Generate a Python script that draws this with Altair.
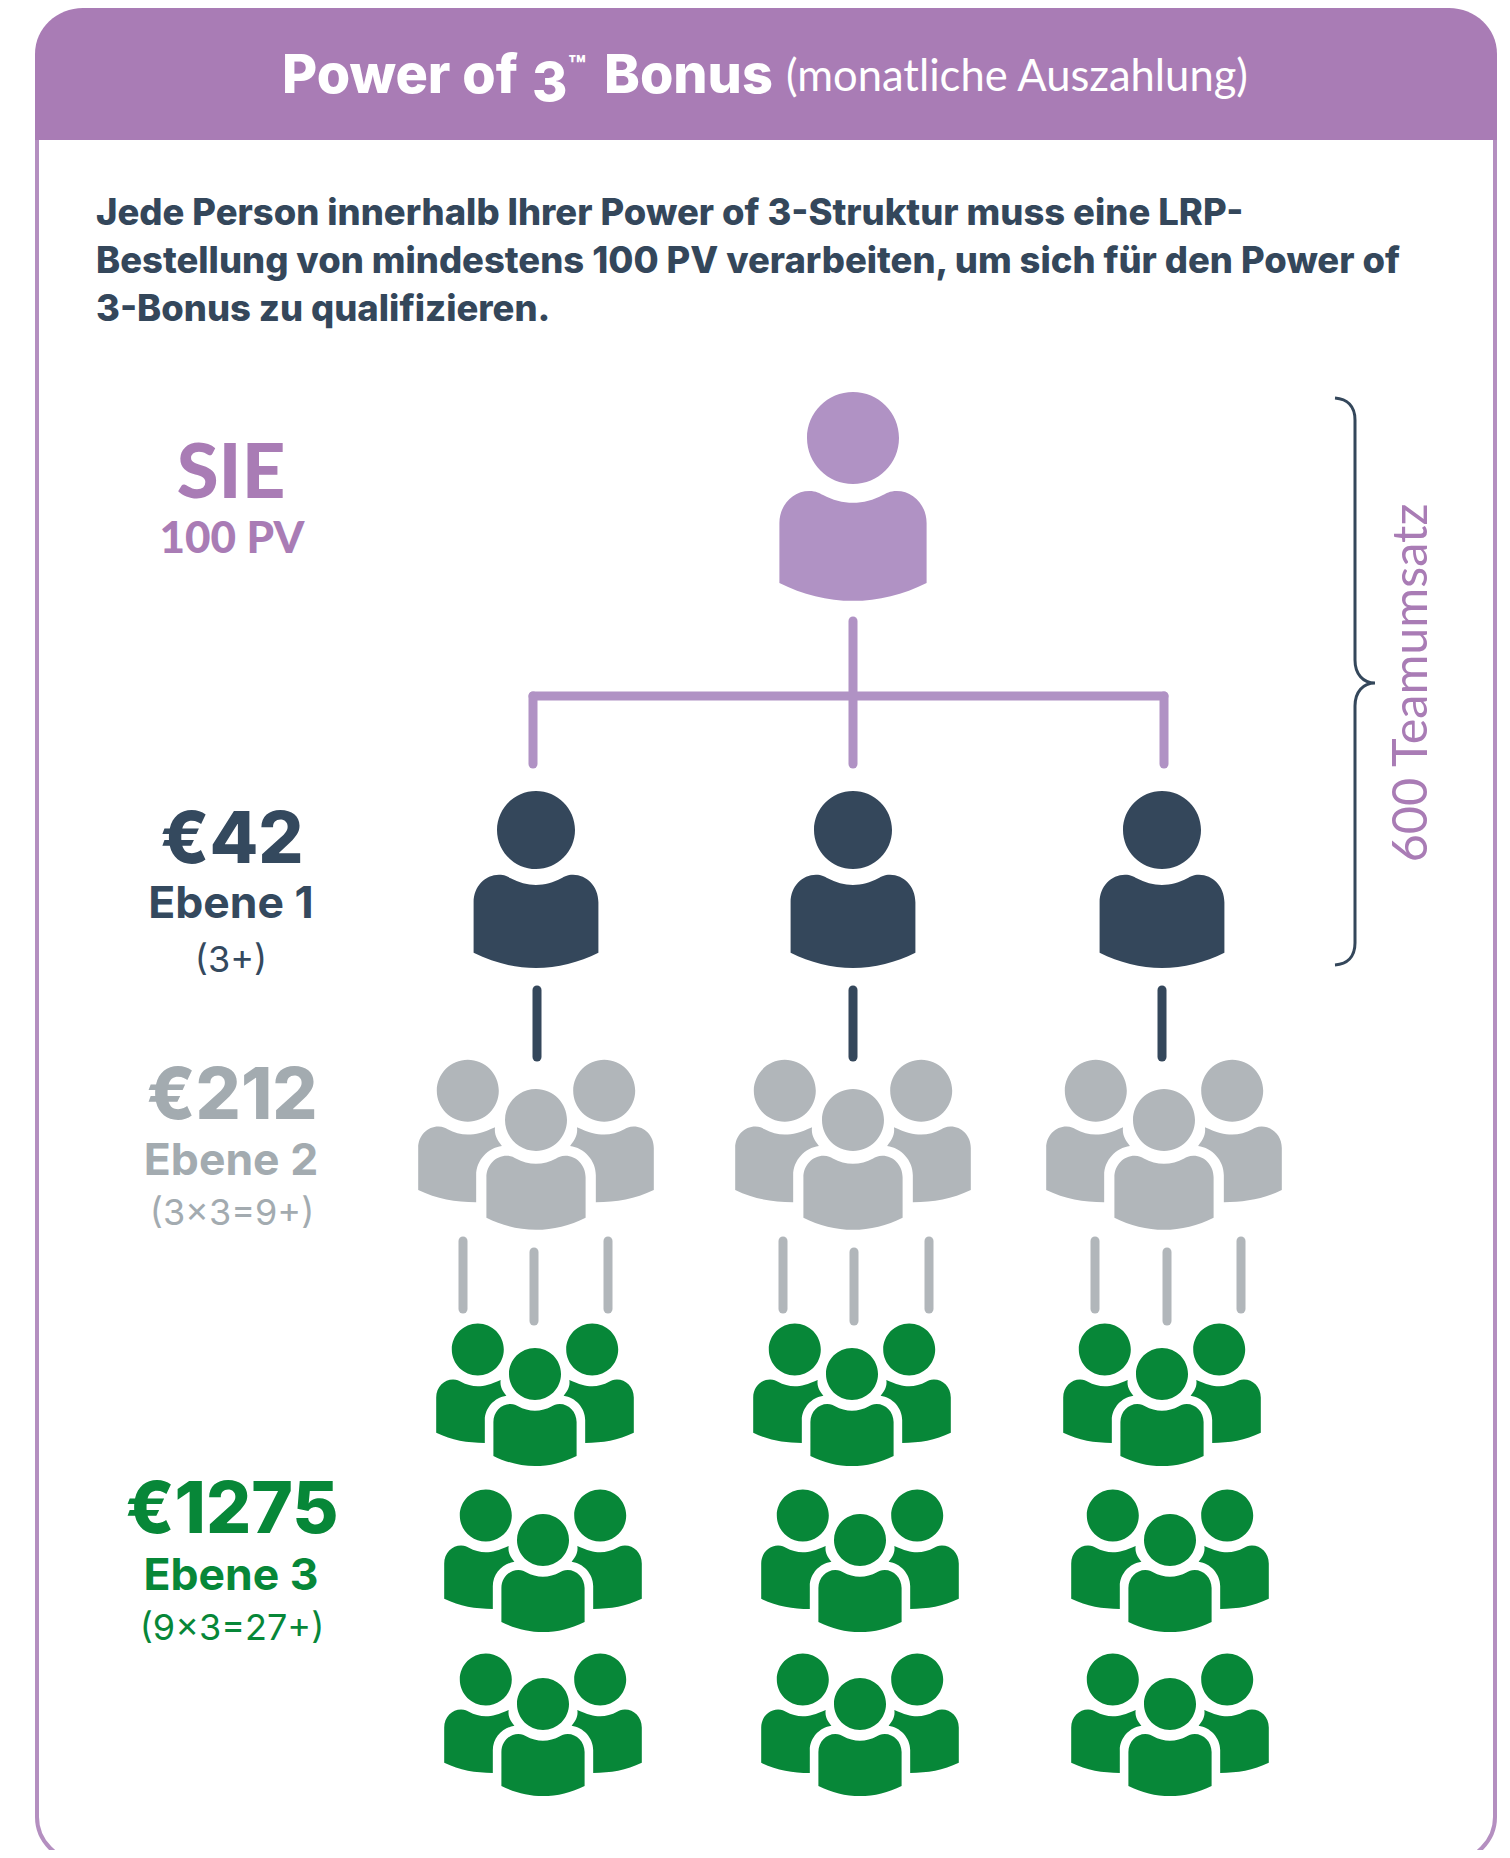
import altair as alt
import pandas as pd

# --- canvas in reference pixels ---
M = 8

# --- text ---
TITLE_BOLD = ["Power of", "3", "Bonus"]
TITLE_BOLD_X = [282, 532, 604]
TITLE_BOLD_Y = [93, 101, 93]
TITLE_REG = "(monatliche Auszahlung)"
BODY = ["Jede Person innerhalb Ihrer Power of 3-Struktur muss eine LRP-",
        "Bestellung von mindestens 100 PV verarbeiten, um sich für den Power of",
        "3-Bonus zu qualifizieren."]
BODY_Y = [225, 273, 321]

AMOUNTS = ["SIE", "€42", "€212", "€1275"]
AMOUNT_Y = [498, 863, 1119, 1533]
LEVELS = ["100 PV", "Ebene 1", "Ebene 2", "Ebene 3"]
LEVEL_Y = [553, 918, 1175, 1590]
COUNTS = ["(3+)", "(3x3=9+)", "(9x3=27+)"]
COUNT_Y = [972, 1225, 1640]
LABEL_COLORS = ["#a97cb5", "#34495e", "#a3abb0", "#078738"]

# --- colours ---
PURPLE = "#a97cb5"
PERSON_PURPLE = "#b092c4"
DARK = "#34475b"
GRAY = "#b1b6ba"
GREEN = "#078738"

# --- people: head centres ---
SOLO_X = [853, 536, 853, 1162]
SOLO_Y = [438, 830, 830, 830]
SOLO_R = [46, 39, 39, 39]
SOLO_C = [PERSON_PURPLE, DARK, DARK, DARK]
GRAY_X = [536, 853, 1164]
GRAY_Y = [1120, 1120, 1120]
GREEN_X = [535, 852, 1162, 543, 860, 1170, 543, 860, 1170]
GREEN_Y = [1374, 1374, 1374, 1540, 1540, 1540, 1704, 1704, 1704]

# --- connectors ---
LINE_X1 = [853, 533, 533, 1164, 537, 853, 1162,
           463, 534, 608, 783, 854, 929, 1095, 1167, 1241]
LINE_X2 = [853, 1164, 533, 1164, 537, 853, 1162,
           463, 534, 608, 783, 854, 929, 1095, 1167, 1241]
LINE_Y1 = [621, 696, 696, 696, 990, 990, 990,
           1241, 1252, 1241, 1241, 1252, 1241, 1241, 1252, 1241]
LINE_Y2 = [764, 696, 764, 764, 1057, 1057, 1057,
           1309, 1321, 1309, 1309, 1321, 1309, 1309, 1321, 1309]
LINE_C = [PERSON_PURPLE] * 4 + [DARK] * 3 + [GRAY] * 9

# --- glyph paths (unit = head radius) ---
HEAD = ("M-1,0C-1,-.552,-.552,-1,0,-1C.552,-1,1,-.552,1,0"
        "C1,.552,.552,1,0,1C-.552,1,-1,.552,-1,0Z")
BODY_PATH = ("M-1.6,3.15L-1.6,1.85C-1.6,1.45,-1.3,1.15,-.95,1.15C-.8,1.15,-.72,1.2,-.65,1.24"
             "C-.45,1.35,-.22,1.41,0,1.41C.22,1.41,.45,1.35,.65,1.24C.72,1.2,.8,1.15,.95,1.15"
             "C1.3,1.15,1.6,1.45,1.6,1.85L1.6,3.15C1.1,3.4,.55,3.54,0,3.54C-.55,3.54,-1.1,3.4,-1.6,3.15Z")
PERSON = HEAD + BODY_PATH


def circle(cx, cy):
    k = .552
    return (f"M{cx-1},{cy}C{cx-1},{cy-k},{cx-k},{cy-1},{cx},{cy-1}"
            f"C{cx+k},{cy-1},{cx+1},{cy-k},{cx+1},{cy}"
            f"C{cx+1},{cy+k},{cx+k},{cy+1},{cx},{cy+1}"
            f"C{cx-k},{cy+1},{cx-1},{cy+k},{cx-1},{cy}Z")


def back(s):
    # back shoulder of a group, s = -1 left, +1 right
    f = lambda v: round(s * v, 3)
    return (f"M{f(3.8)},2.26L{f(3.8)},.9C{f(3.8)},.5,{f(3.5)},.21,{f(3.15)},.21"
            f"C{f(3)},.21,{f(2.92)},.26,{f(2.85)},.3C{f(2.65)},.41,{f(2.42)},.47,{f(2.2)},.47"
            f"C{f(1.95)},.47,{f(1.7)},.4,{f(1.32)},.23C{f(1.36)},.48,{f(1.24)},.66,{f(1.1)},.84"
            f"C{f(1.55)},.9,{f(1.93)},1.3,{f(1.93)},1.78L{f(1.93)},2.65"
            f"C{f(2.6)},2.65,{f(3.2)},2.55,{f(3.8)},2.26Z")


GROUP = PERSON + circle(-2.2, -.94) + circle(2.2, -.94) + back(-1) + back(1)

# --- frame paths in px (size 4 = 1:1) ---
HEADER_PATH = "M-2,132L-2,46C-2,20,20,0,46,0L1412,0C1438,0,1460,20,1460,46L1460,132Z"
FRAME_PATH = "M0,130L0,1809C0,1833,20,1853,44,1853L1414,1853C1438,1853,1458,1833,1458,1809L1458,130"
BRACE_PATH = ("M0,0C12,1,20,8,20,22L20,262C20,276,28,285,40,285C28,285,20,294,20,308"
              "L20,545C20,559,12,566,0,567")

PLOT_W, PLOT_H = 1494, 1842
xs = alt.Scale(domain=[M, M + PLOT_W], range=[0, PLOT_W], nice=False, zero=False)
ys = alt.Scale(domain=[M, M + PLOT_H], range=[0, PLOT_H], nice=False, zero=False)
X = alt.X("x:Q", scale=xs, axis=None)
Y = alt.Y("y:Q", scale=ys, axis=None)


def symbols(xv, yv, rv, cv, path):
    df = pd.DataFrame({"x": xv, "y": yv, "s": [4 * r * r for r in rv], "c": cv})
    return alt.Chart(df).mark_point(shape=path, filled=True, opacity=1, strokeWidth=0).encode(
        x=X, y=Y, size=alt.Size("s:Q", scale=None, legend=None),
        color=alt.Color("c:N", scale=None, legend=None))


def texts(tv, xv, yv, sv, cv, font, weight=400, align="center", angle=None):
    df = pd.DataFrame({"t": tv, "x": xv, "y": yv, "s": sv, "c": cv})
    kw = {"angle": angle} if angle is not None else {}
    return alt.Chart(df).mark_text(font=font, fontWeight=weight, align=align,
                                   baseline="alphabetic", **kw).encode(
        x=X, y=Y, text="t:N", size=alt.Size("s:Q", scale=None, legend=None),
        color=alt.Color("c:N", scale=None, legend=None))


def outline(x, y, path, color, width):
    df = pd.DataFrame({"x": [x], "y": [y]})
    return alt.Chart(df).mark_point(shape=path, filled=False, opacity=1, size=4, color=color,
                                    strokeWidth=width).encode(x=X, y=Y)


rules = alt.Chart(pd.DataFrame({"x": LINE_X1, "x2": LINE_X2, "y": LINE_Y1, "y2": LINE_Y2, "c": LINE_C})) \
    .mark_rule(strokeWidth=9, strokeCap="round").encode(
        x=X, x2="x2:Q", y=Y, y2="y2:Q", color=alt.Color("c:N", scale=None, legend=None))

SANS = "Inter"
layers = [
    outline(37, 8, FRAME_PATH, "#b48fc0", 4),
    symbols([37], [8], [1], [PURPLE], HEADER_PATH),
    rules,
    symbols(SOLO_X, SOLO_Y, SOLO_R, SOLO_C, PERSON),
    symbols(GRAY_X, GRAY_Y, [31] * 3, [GRAY] * 3, GROUP),
    symbols(GREEN_X, GREEN_Y, [26] * 9, [GREEN] * 9, GROUP),
    outline(1335, 398, BRACE_PATH, DARK, 3),
    texts(TITLE_BOLD, TITLE_BOLD_X, TITLE_BOLD_Y, [54, 54, 54], ["#ffffff"] * 3, SANS, 800, "left"),
    texts(["™"], [568], [76], [28], ["#ffffff"], SANS, 800, "left"),
    texts([TITLE_REG], [786], [91], [43.5], ["#ffffff"], "Lato", 400, "left"),
    texts(BODY, [96, 96, 96], BODY_Y, [36.4, 36.4, 36.4], [DARK] * 3, SANS, 800, "left"),
    texts(AMOUNTS[:1], [231], AMOUNT_Y[:1], [76], LABEL_COLORS[:1], "Lato", 900),
    texts(AMOUNTS[1:], [232] * 3, AMOUNT_Y[1:], [71, 71, 71], LABEL_COLORS[1:], SANS, 800),
    texts(LEVELS[:1], [232], LEVEL_Y[:1], [44], LABEL_COLORS[:1], "Lato", 900),
    texts(LEVELS[1:], [231] * 3, LEVEL_Y[1:], [44.5, 44.5, 44.5], LABEL_COLORS[1:], SANS, 700),
    texts(COUNTS, [231, 232, 232], COUNT_Y, [36, 36, 36], LABEL_COLORS[1:], SANS, 400),
    texts(["600 Teamumsatz"], [1427], [683], [48.5], [PURPLE], "Lato", 400, "center", 270),
]

chart = alt.layer(*layers).properties(
    width=PLOT_W, height=PLOT_H, padding=0,
    autosize=alt.AutoSizeParams(type="none"), background="#ffffff",
).configure_view(stroke=None)

chart.save("out.html", embed_options={"renderer": "svg", "actions": False})
